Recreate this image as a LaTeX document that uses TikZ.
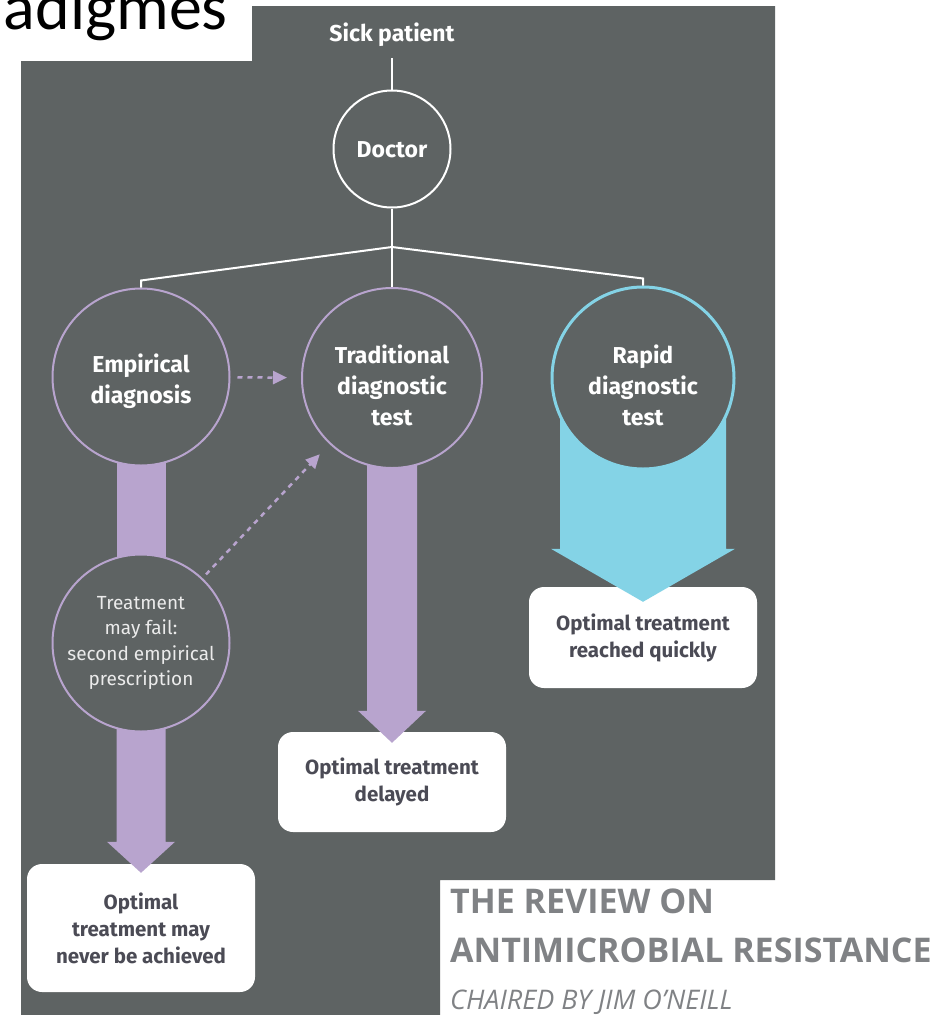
\documentclass[tikz,border=0pt]{standalone}
\usepackage{fontspec}
\setmainfont{Fira Sans}
\newfontfamily\titrefont{Carlito}
\newfontfamily\logofont{Open Sans}
\usetikzlibrary{calc,arrows.meta}

\pgfdeclarelayer{fond}
\pgfsetlayers{fond,main}

\definecolor{ardoise}{HTML}{5E6363}
\definecolor{mauve}{HTML}{B8A4CE}
\definecolor{ciel}{HTML}{84D3E6}
\definecolor{encre}{HTML}{4B4B55}
\definecolor{grislogo}{HTML}{808285}

\begin{document}
\begin{tikzpicture}[x=1pt,y=-1pt]
\tikzset{rond/.style={draw=mauve, circle, fill=ardoise, line width=2pt, inner sep=0pt, minimum size=177pt}}
\tikzset{etiquette/.style={text=white, align=center, inner sep=0pt, font=\bfseries\fontsize{23}{31}\selectfont}}
\tikzset{boite/.style={fill=white, rounded corners=15pt, minimum width=228pt, align=center, text=encre, font=\bfseries\fontsize{20.5}{27}\selectfont}}
\tikzset{trait/.style={draw=white, line width=2pt}}
\tikzset{pointille/.style={mauve, line width=2.5pt, dash pattern=on 5pt off 5pt, -{Triangle[length=14pt,width=13pt]}}}
\tikzset{logo/.style={anchor=base west, inner sep=0pt, text=grislogo, font=\logofont\bfseries\fontsize{34}{34}\selectfont}}
\useasboundingbox (0,0) rectangle (935,1015);

% les cercles
\node[rond, draw=white, minimum size=117pt] (D) at (392,149) {};
\node[rond] (E) at (141,377) {};
\node[rond, minimum size=180pt] (T) at (392,378) {};
\node[rond, draw=ciel, line width=3pt, minimum size=182pt] (R) at (643,378) {};
\node[rond] (F) at (141,643) {};
\node[etiquette] (Dt) at ($(D)+(0,1)$) {Doctor};
\node[etiquette] (Et) at ($(E)+(0,4)$) {Empirical\\diagnosis};
\node[etiquette] (Tt) at ($(T)+(0,7)$) {Traditional\\diagnostic\\test};
\node[etiquette] (Rt) at ($(R)+(0,7)$) {Rapid\\diagnostic\\test};
\node[etiquette, font=\fontsize{19}{25.5}\selectfont, text=white!92!black] (Ft) at ($(F)+(0,0)$) {Treatment\\may fail:\\second empirical\\prescription};

\begin{pgfonlayer}{fond}
\fill[ardoise] (21,6) -- (775,6) -- (775,880) -- (440,880) -- (440,1015) -- (21,1015) -- cycle;
\fill[white] (0,0) rectangle (252,61);
\node[boite, minimum height=101pt] (RO) at (643,637.5) {Optimal treatment\\reached quickly};
\node[boite, minimum height=100pt] (TO) at (392,782) {Optimal treatment\\delayed};
\node[boite, minimum height=128pt] (EO) at (141,928) {Optimal\\treatment may\\never be achieved};
% grosses fleches
\fill[mauve] ($(E)+(-24.5,0)$) rectangle ($(F)+(24.5,0)$);
\fill[mauve] ($(F)+(-24.5,0)$) -- ($(EO.north)+(-24.5,-22)$) -- ($(EO.north)+(-34,-22)$) -- ($(EO.north)+(0,9)$)
  -- ($(EO.north)+(34,-22)$) -- ($(EO.north)+(24.5,-22)$) -- ($(F)+(24.5,0)$) -- cycle;
\fill[mauve] ($(T)+(-25,0)$) -- ($(TO.north)+(-25,-21)$) -- ($(TO.north)+(-34,-21)$) -- ($(TO.north)+(0,11)$)
  -- ($(TO.north)+(34,-21)$) -- ($(TO.north)+(25,-21)$) -- ($(T)+(25,0)$) -- cycle;
\fill[ciel] ($(R)+(-83,0)$) -- ($(RO.north)+(-83,-38)$) -- ($(RO.north)+(-92,-38)$) -- ($(RO.north)+(0,15)$)
  -- ($(RO.north)+(92,-38)$) -- ($(RO.north)+(83,-38)$) -- ($(R)+(83,0)$) -- cycle;
\end{pgfonlayer}

\node[text=white, font=\bfseries\fontsize{23}{28}\selectfont] (S) at (392,35) {Sick patient};
\coordinate (J) at (392,247);
\draw[trait, shorten <=8pt] (S) -- (D);
\draw[trait] (D) -- (J) -- (T);
\draw[trait] (J) -- ($(E.north)+(0,-7)$) -- (E.north);
\draw[trait] (J) -- ($(R.north)+(0,-7)$) -- (R.north);
\draw[pointille, shorten <=7pt, shorten >=14pt] (E) -- (T);
\draw[pointille, shorten <=5pt, shorten >=14pt] (F) -- (T);

% titre et logo
\node[anchor=base east, inner sep=0pt, font=\titrefont\fontsize{66}{66}\selectfont] (titre) at (228,29) {adigmes};
\node[logo] (L1) at (450,913) {THE REVIEW ON};
\node[logo] (L2) at (450,962) {ANTIMICROBIAL RESISTANCE};
\node[logo, font=\logofont\itshape\fontsize{27}{27}\selectfont] (L3) at (450,1009) {CHAIRED BY JIM O’NEILL};
\end{tikzpicture}
\end{document}
